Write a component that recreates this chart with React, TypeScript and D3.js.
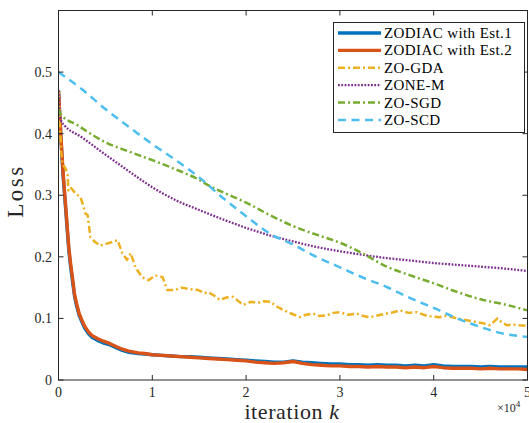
import React from "react";
import * as d3 from "d3";

// x in units of 1e4 iterations
const zodiacEarlyX = [0, 0.01, 0.03, 0.05, 0.07, 0.09, 0.11, 0.13, 0.15, 0.17, 0.19, 0.22, 0.25, 0.28, 0.32, 0.36, 0.42, 0.48, 0.55, 0.62, 0.68, 0.75, 0.85, 0.92];
const est1Early = [0.47, 0.44, 0.38, 0.33, 0.29, 0.25, 0.21, 0.183, 0.16, 0.137, 0.122, 0.105, 0.094, 0.084, 0.075, 0.069, 0.064, 0.06, 0.057, 0.052, 0.048, 0.045, 0.043, 0.042];
const est2Early = [0.47, 0.44, 0.385, 0.335, 0.295, 0.255, 0.215, 0.188, 0.165, 0.14, 0.126, 0.108, 0.097, 0.087, 0.078, 0.072, 0.067, 0.063, 0.059, 0.054, 0.05, 0.047, 0.044, 0.043];
const zodiacLateX = [1.0, 1.1, 1.2, 1.3, 1.4, 1.5, 1.6, 1.7, 1.8, 1.9, 2.0, 2.1, 2.2, 2.3, 2.4, 2.5, 2.6, 2.7, 2.8, 2.9, 3.0, 3.1, 3.2, 3.3, 3.4, 3.5, 3.6, 3.7, 3.8, 3.9, 4.0, 4.1, 4.2, 4.3, 4.4, 4.5, 4.6, 4.7, 4.8, 4.9, 5.0];
const est1Late = [0.041, 0.040, 0.039, 0.038, 0.038, 0.037, 0.036, 0.035, 0.034, 0.033, 0.032, 0.031, 0.030, 0.029, 0.029, 0.031, 0.029, 0.028, 0.027, 0.026, 0.026, 0.025, 0.025, 0.024, 0.025, 0.024, 0.024, 0.023, 0.024, 0.023, 0.025, 0.023, 0.022, 0.022, 0.022, 0.021, 0.022, 0.021, 0.021, 0.021, 0.021];
const est2Late = [0.041, 0.040, 0.039, 0.038, 0.037, 0.036, 0.035, 0.034, 0.033, 0.032, 0.031, 0.029, 0.028, 0.027, 0.028, 0.030, 0.027, 0.025, 0.024, 0.023, 0.023, 0.022, 0.022, 0.021, 0.022, 0.021, 0.021, 0.020, 0.021, 0.020, 0.022, 0.020, 0.019, 0.019, 0.019, 0.018, 0.019, 0.018, 0.018, 0.018, 0.017];

const gdaX = [0, 0.01, 0.02, 0.03, 0.043, 0.07, 0.096, 0.106, 0.128, 0.18, 0.234, 0.26, 0.287, 0.31, 0.34, 0.39, 0.45, 0.47, 0.53, 0.63, 0.68, 0.73, 0.77, 0.82, 0.89, 0.96, 1.03, 1.11, 1.16, 1.24, 1.31, 1.38, 1.49, 1.56, 1.59, 1.65, 1.72, 1.79, 1.86, 1.97, 2.05, 2.12, 2.19, 2.26, 2.32, 2.39, 2.48, 2.57, 2.64, 2.71, 2.78, 2.86, 2.93, 3.0, 3.09, 3.18, 3.25, 3.32, 3.41, 3.5, 3.57, 3.64, 3.73, 3.82, 3.93, 4.0, 4.06, 4.13, 4.2, 4.28, 4.35, 4.46, 4.53, 4.6, 4.68, 4.73, 4.78, 4.85, 4.91, 5.0];
const gdaY = [0.47, 0.43, 0.4, 0.37, 0.35, 0.345, 0.335, 0.308, 0.313, 0.303, 0.297, 0.285, 0.27, 0.268, 0.232, 0.224, 0.218, 0.22, 0.222, 0.227, 0.206, 0.195, 0.206, 0.183, 0.167, 0.162, 0.17, 0.167, 0.146, 0.146, 0.15, 0.148, 0.146, 0.141, 0.143, 0.138, 0.13, 0.134, 0.135, 0.122, 0.127, 0.125, 0.128, 0.127, 0.12, 0.114, 0.108, 0.102, 0.106, 0.108, 0.104, 0.105, 0.109, 0.11, 0.106, 0.108, 0.104, 0.102, 0.105, 0.108, 0.11, 0.113, 0.109, 0.11, 0.104, 0.103, 0.102, 0.104, 0.102, 0.099, 0.097, 0.094, 0.092, 0.089, 0.1, 0.093, 0.089, 0.09, 0.089, 0.088];

const zonemX = [0, 0.01, 0.03, 0.06, 0.25, 0.5, 0.75, 0.9, 1.0, 1.1, 1.25, 1.5, 1.75, 2.0, 2.25, 2.5, 2.75, 3.0, 3.25, 3.5, 3.75, 4.0, 4.25, 4.5, 4.75, 5.0];
const zonemY = [0.47, 0.44, 0.42, 0.414, 0.394, 0.366, 0.339, 0.323, 0.313, 0.304, 0.292, 0.276, 0.261, 0.247, 0.235, 0.225, 0.216, 0.209, 0.203, 0.198, 0.194, 0.19, 0.187, 0.184, 0.181, 0.177];

const sgdX = [0, 0.02, 0.2, 0.5, 0.75, 1.0, 1.25, 1.5, 1.6, 1.75, 2.0, 2.25, 2.5, 2.75, 3.0, 3.25, 3.5, 3.75, 4.0, 4.25, 4.5, 4.75, 5.0];
const sgdY = [0.44, 0.432, 0.414, 0.386, 0.371, 0.357, 0.342, 0.325, 0.316, 0.305, 0.288, 0.268, 0.25, 0.236, 0.223, 0.205, 0.184, 0.17, 0.157, 0.143, 0.131, 0.123, 0.113];

const scdX = [0, 0.25, 0.5, 0.75, 1.0, 1.25, 1.5, 1.75, 2.0, 2.25, 2.5, 2.75, 3.0, 3.25, 3.5, 3.75, 4.0, 4.25, 4.5, 4.75, 5.0];
const scdY = [0.5, 0.472, 0.44, 0.411, 0.383, 0.357, 0.329, 0.296, 0.266, 0.238, 0.22, 0.2, 0.183, 0.166, 0.151, 0.133, 0.117, 0.1, 0.086, 0.075, 0.07];

const xTicks = [0, 1, 2, 3, 4, 5];
const yTicks = [0, 0.1, 0.2, 0.3, 0.4, 0.5];

const seriesNames = ["ZODIAC with Est.1", "ZODIAC with Est.2", "ZO-GDA", "ZONE-M", "ZO-SGD", "ZO-SCD"];

const W = 529, H = 423;
const L = 58.5, R = 527.5, T = 10.5, B = 380;
const FONT = "'Liberation Serif', 'DejaVu Serif', serif";

export default function App() {
  const x = d3.scaleLinear().domain([0, 5]).range([L, R]);
  const y = d3.scaleLinear().domain([0, 0.6]).range([B, T]);
  const line = d3.line<[number, number]>().x(d => x(d[0])).y(d => y(d[1]));
  const smooth = d3.line<[number, number]>().x(d => x(d[0])).y(d => y(d[1])).curve(d3.curveMonotoneX);
  const zip = (xs: number[], ys: number[]) => xs.map((v, i) => [v, ys[i]] as [number, number]);

  const est1 = zip(zodiacEarlyX.concat(zodiacLateX), est1Early.concat(est1Late));
  const est2 = zip(zodiacEarlyX.concat(zodiacLateX), est2Early.concat(est2Late));

  const styles = [
    { color: "#0072BD", width: 3.4, dash: "none", smooth: false },
    { color: "#D95319", width: 3.4, dash: "none", smooth: false },
    { color: "#EDB120", width: 2.5, dash: "7,3,2,3", smooth: false },
    { color: "#7E2F8E", width: 2.3, dash: "1.8,1.5", smooth: true },
    { color: "#77AC30", width: 2.5, dash: "7,3,2,3", smooth: true },
    { color: "#4DBEEE", width: 2.5, dash: "8,5.5", smooth: true },
  ];
  const data = [est1, est2, zip(gdaX, gdaY), zip(zonemX, zonemY), zip(sgdX, sgdY), zip(scdX, scdY)];
  const drawOrder = [0, 1, 2, 3, 4, 5];

  const axisColor = "#262626";
  const tickLen = 5;

  return (
    <svg width={W} height={H} style={{ position: "absolute", left: 0, top: 0, background: "#fff" }}>
      <defs>
        <clipPath id="plotclip">
          <rect x={L} y={T} width={R - L} height={B - T} />
        </clipPath>
      </defs>
      <rect x={0} y={0} width={W} height={H} fill="#fff" />
      <g clipPath="url(#plotclip)">
        {drawOrder.map(i => (
          <path key={i} d={(styles[i].smooth ? smooth(data[i]) : line(data[i])) || ""} fill="none" stroke={styles[i].color}
            strokeWidth={styles[i].width} strokeDasharray={styles[i].dash} strokeLinejoin="round" />
        ))}
      </g>
      <rect x={L} y={T} width={R - L} height={B - T} fill="none" stroke={axisColor} strokeWidth={1} />
      {xTicks.map(t => (
        <g key={"x" + t}>
          <line x1={x(t)} x2={x(t)} y1={B} y2={B - tickLen} stroke={axisColor} strokeWidth={1} />
          <line x1={x(t)} x2={x(t)} y1={T} y2={T + tickLen} stroke={axisColor} strokeWidth={1} />
          <text x={x(t)} y={397} textAnchor="middle" fontFamily={FONT} fontSize={14} fill={axisColor}>{t}</text>
        </g>
      ))}
      {yTicks.map(t => (
        <g key={"y" + t}>
          <line x1={L} x2={L + tickLen} y1={y(t)} y2={y(t)} stroke={axisColor} strokeWidth={1} />
          <line x1={R} x2={R - tickLen} y1={y(t)} y2={y(t)} stroke={axisColor} strokeWidth={1} />
          <text x={52} y={y(t) + 5} textAnchor="end" fontFamily={FONT} fontSize={14} fill={axisColor}>{t}</text>
        </g>
      ))}
      <text x={497} y={412} fontFamily={FONT} fontSize={12} fill={axisColor}>×10<tspan dy={-5} fontSize={9}>4</tspan></text>
      <text x={292} y={419} textAnchor="middle" fontFamily={FONT} fontSize={22} letterSpacing={0.6} fill={axisColor}>iteration <tspan fontStyle="italic">k</tspan></text>
      <text transform="translate(23,191) rotate(-90)" textAnchor="middle" fontFamily={FONT} fontSize={23} letterSpacing={2.5} fill={axisColor}>Loss</text>
      <g>
        <rect x={333.5} y={22.5} width={191} height={110} fill="#fff" stroke={axisColor} strokeWidth={1} />
        {seriesNames.map((name, i) => {
          const ry = 33 + i * 17.4;
          return (
            <g key={name}>
              <line x1={338} x2={381} y1={ry} y2={ry} stroke={styles[i].color} strokeWidth={styles[i].width}
                strokeDasharray={styles[i].dash} />
              <text x={384} y={ry + 5} fontFamily={FONT} fontSize={15} letterSpacing={0.4} fill="#000">{name}</text>
            </g>
          );
        })}
      </g>
    </svg>
  );
}
